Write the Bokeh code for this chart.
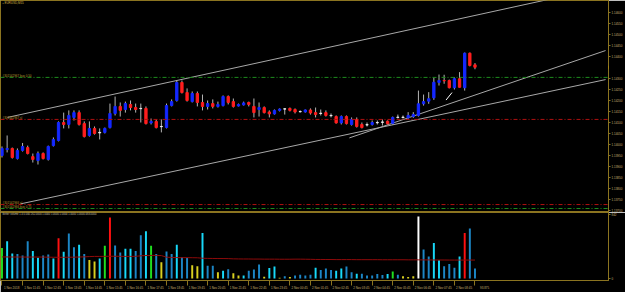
from bokeh.plotting import figure
from bokeh.layouts import column
from bokeh.models import Range1d, FixedTicker, PrintfTickFormatter, Span, Label, ColumnDataSource
from bokeh.embed import file_html
from bokeh.resources import INLINE

symbol = "EURUSD,M15"

opens = [1.13950, 1.13977, 1.13982, 1.13936, 1.13973, 1.13986, 1.13945, 1.13927, 1.13959, 1.13932,
         1.13995, 1.14018, 1.14100, 1.14091, 1.14123, 1.14145, 1.14095, 1.14041, 1.14073, 1.14055,
         1.14055, 1.14077, 1.14141, 1.14173, 1.14159, 1.14182, 1.14168, 1.14164, 1.14164, 1.14098,
         1.14105, 1.14082, 1.14077, 1.14177, 1.14200, 1.14282, 1.14236, 1.14195, 1.14232, 1.14191,
         1.14173, 1.14186, 1.14173, 1.14177, 1.14218, 1.14195, 1.14175, 1.14180, 1.14191, 1.14173,
         1.14159, 1.14168, 1.14148, 1.14139, 1.14155, 1.14161, 1.14164, 1.14159, 1.14150, 1.14148,
         1.14157, 1.14145, 1.14142, 1.14145, 1.14132, 1.14127, 1.14098, 1.14127, 1.14091, 1.14114,
         1.14091, 1.14089, 1.14091, 1.14100, 1.14101, 1.14106, 1.14096, 1.14123, 1.14123, 1.14121,
         1.14127, 1.14132, 1.14185, 1.14197, 1.14212, 1.14282, 1.14291, 1.14291, 1.14258, 1.14299,
         1.14258, 1.14415, 1.14362]
highs = [1.13991, 1.14041, 1.13986, 1.13982, 1.14007, 1.13995, 1.13959, 1.13968, 1.13964, 1.13995,
         1.14032, 1.14105, 1.14145, 1.14155, 1.14155, 1.14155, 1.14105, 1.14105, 1.14082, 1.14073,
         1.14077, 1.14186, 1.14218, 1.14191, 1.14195, 1.14200, 1.14186, 1.14186, 1.14173, 1.14118,
         1.14114, 1.14114, 1.14186, 1.14205, 1.14291, 1.14291, 1.14255, 1.14241, 1.14241, 1.14227,
         1.14200, 1.14205, 1.14195, 1.14223, 1.14223, 1.14209, 1.14186, 1.14195, 1.14195, 1.14209,
         1.14191, 1.14173, 1.14155, 1.14159, 1.14164, 1.14164, 1.14168, 1.14164, 1.14155, 1.14159,
         1.14164, 1.14168, 1.14159, 1.14155, 1.14141, 1.14132, 1.14132, 1.14132, 1.14123, 1.14123,
         1.14100, 1.14100, 1.14109, 1.14109, 1.14114, 1.14109, 1.14127, 1.14136, 1.14132, 1.14147,
         1.14147, 1.14245, 1.14227, 1.14238, 1.14303, 1.14318, 1.14317, 1.14295, 1.14305, 1.14329,
         1.14418, 1.14418, 1.14370]
lows = [1.13941, 1.13964, 1.13936, 1.13932, 1.13968, 1.13955, 1.13918, 1.13909, 1.13932, 1.13927,
        1.13991, 1.14014, 1.14073, 1.14073, 1.14109, 1.14086, 1.14032, 1.14036, 1.14045, 1.14023,
        1.14050, 1.14073, 1.14132, 1.14127, 1.14145, 1.14155, 1.14145, 1.14100, 1.14091, 1.14091,
        1.14073, 1.14055, 1.14073, 1.14173, 1.14195, 1.14232, 1.14195, 1.14191, 1.14173, 1.14155,
        1.14159, 1.14164, 1.14168, 1.14173, 1.14182, 1.14168, 1.14173, 1.14177, 1.14173, 1.14123,
        1.14127, 1.14141, 1.14123, 1.14136, 1.14150, 1.14136, 1.14150, 1.14141, 1.14145, 1.14145,
        1.14136, 1.14123, 1.14132, 1.14127, 1.14123, 1.14095, 1.14091, 1.14091, 1.14086, 1.14077,
        1.14073, 1.14082, 1.14086, 1.14091, 1.14086, 1.14091, 1.14091, 1.14118, 1.14118, 1.14117,
        1.14121, 1.14127, 1.14177, 1.14185, 1.14203, 1.14268, 1.14276, 1.14255, 1.14250, 1.14259,
        1.14245, 1.14355, 1.14342]
closes = [1.13982, 1.13982, 1.13941, 1.13973, 1.13991, 1.13959, 1.13932, 1.13959, 1.13936, 1.13991,
          1.14023, 1.14100, 1.14091, 1.14132, 1.14145, 1.14091, 1.14036, 1.14073, 1.14050, 1.14053,
          1.14073, 1.14141, 1.14173, 1.14155, 1.14186, 1.14168, 1.14159, 1.14163, 1.14095, 1.14105,
          1.14077, 1.14081, 1.14177, 1.14195, 1.14282, 1.14236, 1.14200, 1.14232, 1.14191, 1.14173,
          1.14186, 1.14173, 1.14182, 1.14218, 1.14191, 1.14173, 1.14182, 1.14189, 1.14182, 1.14145,
          1.14168, 1.14145, 1.14139, 1.14155, 1.14161, 1.14162, 1.14155, 1.14148, 1.14149, 1.14157,
          1.14143, 1.14136, 1.14141, 1.14132, 1.14131, 1.14098, 1.14127, 1.14095, 1.14114, 1.14082,
          1.14077, 1.14090, 1.14100, 1.14099, 1.14102, 1.14094, 1.14123, 1.14124, 1.14124, 1.14132,
          1.14136, 1.14185, 1.14195, 1.14208, 1.14283, 1.14291, 1.14289, 1.14258, 1.14299, 1.14260,
          1.14415, 1.14359, 1.14351]

volumes = [404, 492, 332, 324, 304, 492, 364, 276, 304, 316,
           264, 532, 352, 592, 412, 444, 324, 244, 224, 264,
           432, 804, 436, 344, 392, 392, 364, 572, 624, 432,
           324, 216, 356, 324, 444, 284, 272, 176, 164,
           600, 168, 168, 84, 104, 124, 72, 40, 40, 104,
           120, 184, 24, 140, 160, 12, 32, 20, 40, 52,
           40, 52, 144, 112, 132, 112, 104, 132, 160, 84,
           64, 64, 40, 40, 60, 48, 60, 92, 52, 32,
           20, 30, 816, 384, 292, 468, 240, 164, 192, 144,
           292, 600, 660, 132]
# Better Volume classes: N neutral, A light, L low, C churn, U climax up, D climax down
volume_class = list("CAANNNAANN" "AUANNANLLA" "CUNNAANNAC" "NLNNANNLL" "ANNLANLLAN"
                    "NNLAALNLNN" "NNANNNAANN" "ANNNNNACNL" "LLDNNAANNN" "AUNN")
volume_ma = [285, 285, 284, 284, 284, 283, 284, 284, 283, 282,
             281, 280, 280, 281, 282, 284, 286,
             290, 292, 292, 293, 294, 294, 293, 292, 292, 293,
             300, 304, 305, 305, 303,
             282, 278, 277, 276, 276, 275, 274,
             268, 266, 265, 264, 264, 263,
             260, 259, 258, 258, 257, 257, 256, 256, 256, 255, 255, 255, 256, 256, 255, 254,
             252, 252, 251, 251, 250, 250, 250, 250, 249, 249, 249, 249, 249, 248, 248, 248, 248, 248, 247, 247, 247,
             246, 246, 245, 245, 245, 244, 244, 244, 244, 244, 244]

time_labels = ["1 Nov 2018", "1 Nov 11:45", "1 Nov 12:45", "1 Nov 13:45", "1 Nov 14:45", "1 Nov 15:45",
               "1 Nov 16:45", "1 Nov 17:45", "1 Nov 18:45", "1 Nov 19:45", "1 Nov 20:45", "1 Nov 21:45",
               "1 Nov 22:45", "1 Nov 23:45", "2 Nov 00:45", "2 Nov 01:45", "2 Nov 02:45", "2 Nov 03:45",
               "2 Nov 04:45", "2 Nov 05:45", "2 Nov 06:45", "2 Nov 07:45", "2 Nov 08:45"]
price_ticks = [1.1460, 1.1455, 1.1450, 1.1445, 1.1440, 1.1430, 1.1425, 1.1420, 1.1415,
               1.1410, 1.1405, 1.1400, 1.1395, 1.1390, 1.1385, 1.1380, 1.1375, 1.1370]
volume_ticks = [0, 842]

# order lines: (price, label, kind)
order_prices = [1.14305, 1.14114, 1.13727, 1.13709]
order_labels = ["#301542967 buy 0.50", "#301542967 sl", "#301542966 sl", "#301542966 buy 0.75"]
order_kinds = ["entry", "sl", "sl", "entry"]

# trend lines (candle index, price)
trend_x0 = [1.07, 3.59, 67.57, 86.37]
trend_y0 = [1.14123, 1.13730, 1.14030, 1.14202]
trend_x1 = [117.0, 117.4, 117.4, 87.53]
trend_y1 = [1.14714, 1.14295, 1.14427, 1.14236]
trend_color = ["#A8A8A8", "#A8A8A8", "#A8A8A8", "#FFFFFF"]

volume_label = "Better volume 1.4 0.000 262.0000 1.0000 1.0000 1.0000 1.0000 1.0000 483.0000"

# ---------------------------------------------------------------- style
BG = "#000000"
FRAME = "#8B7420"
TXT = "#C8B070"
BULL = "#1428FF"
BEAR = "#FF1E1E"
DOJI = "#E8E8E8"
WICK = "#B4B4B4"
FONT = "Liberation Sans"
VCOL = {"N": "#1C86C6", "A": "#18D8F8", "L": "#D8D020", "C": "#20E020", "U": "#FF1010", "D": "#FFFFFF"}

n = len(opens)
idx = list(range(n))
body_col = [BULL if c > o + 0.00002 else (BEAR if c < o - 0.00002 else DOJI) for o, c in zip(opens, closes)]
src = ColumnDataSource(dict(idx=idx, o=opens, h=highs, l=lows, c=closes,
                            top=[max(a, b) for a, b in zip(opens, closes)],
                            bot=[min(a, b) for a, b in zip(opens, closes)],
                            col=body_col))

xr = Range1d(-0.29, 117.97)

p = figure(width=625, height=212, x_range=xr, y_range=Range1d(1.136909, 1.146545),
           output_backend="svg", toolbar_location=None, x_axis_location=None, y_axis_location="right",
           background_fill_color=BG, border_fill_color=BG, outline_line_color=FRAME,
           min_border_left=0, min_border_top=0, min_border_bottom=0, min_border_right=15)
p.grid.visible = False

ya = p.yaxis[0]
ya.ticker = FixedTicker(ticks=price_ticks)
ya.formatter = PrintfTickFormatter(format="%.5f")
ya.axis_line_color = FRAME
ya.major_tick_line_color = FRAME
ya.major_tick_out = 2
ya.major_tick_in = 0
ya.minor_tick_line_color = None
ya.major_label_standoff = 1
ya.major_label_text_font_size = "3px"
ya.major_label_text_font = FONT
ya.major_label_text_color = TXT

for price, kind in zip(order_prices, order_kinds):
    p.add_layout(Span(location=price, dimension="width", line_width=1, line_dash="4 2 1 2",
                      line_color="#1E8C1E" if kind == "entry" else "#B01010"))
for price, lab in zip(order_prices, order_labels):
    p.add_layout(Label(x=xr.start, y=price, x_offset=2, text=lab, text_font=FONT, text_font_size="3px",
                       text_color="#B8962E", text_baseline="bottom", text_align="left"))

p.segment(x0=trend_x0, y0=trend_y0, x1=trend_x1, y1=trend_y1, line_color=trend_color, line_width=1)

p.segment(x0="idx", y0="l", x1="idx", y1="h", source=src, line_color=WICK, line_width=1)
p.vbar(x="idx", width=0.45, top="top", bottom="bot", source=src, fill_color="col", line_color="col", line_width=1)

p.add_layout(Label(x=xr.start, y=1.146545, x_offset=2, text="\u25aa " + symbol, text_font=FONT,
                   text_font_size="3px", text_color="#D0B040", text_baseline="top", text_align="left"))
p.add_layout(Label(x=xr.end, y=closes[-1], text="%.5f" % closes[-1], text_font=FONT, text_font_size="3px",
                   text_color="#000000", text_baseline="middle", text_align="left",
                   background_fill_color="#E0B000"))

# ---------------------------------------------------------------- volume pane
vsrc = ColumnDataSource(dict(idx=idx, v=volumes, ma=volume_ma, col=[VCOL[k] for k in volume_class]))
pv = figure(width=625, height=80, x_range=xr, y_range=Range1d(-25, 870),
            output_backend="svg", toolbar_location=None, x_axis_location="below", y_axis_location="right",
            background_fill_color=BG, border_fill_color=BG, outline_line_color=FRAME,
            min_border_left=0, min_border_top=0, min_border_bottom=8, min_border_right=15)
pv.grid.visible = False
pv.vbar(x="idx", width=0.38, top="v", bottom=0, source=vsrc, fill_color="col", line_color=None)
pv.line(x="idx", y="ma", source=vsrc, line_color="#8E0A0A", line_width=1)
pv.add_layout(Label(x=xr.start, y=870, x_offset=2, text=volume_label, text_font=FONT, text_font_size="2.6px",
                    text_color="#C8C0A8", text_baseline="top", text_align="left"))

va = pv.yaxis[0]
va.ticker = FixedTicker(ticks=volume_ticks)
va.formatter = PrintfTickFormatter(format="%d")
va.axis_line_color = FRAME
va.major_tick_line_color = FRAME
va.major_tick_out = 2
va.major_tick_in = 0
va.minor_tick_line_color = None
va.major_label_standoff = 1
va.major_label_text_font_size = "3px"
va.major_label_text_font = FONT
va.major_label_text_color = TXT

hour_ticks = list(range(0, n, 4))
shift = 1.875
xa = pv.xaxis[0]
xa.ticker = FixedTicker(ticks=[t + shift for t in hour_ticks], minor_ticks=hour_ticks)
xa.major_label_overrides = {t + shift: lab for t, lab in zip(hour_ticks, time_labels)}
xa.axis_line_color = FRAME
xa.major_tick_line_color = None
xa.major_tick_out = 1
xa.major_tick_in = 0
xa.minor_tick_line_color = FRAME
xa.minor_tick_out = 5
xa.minor_tick_in = 0
xa.major_label_standoff = 1
xa.major_label_text_font_size = "3px"
xa.major_label_text_font = FONT
xa.major_label_text_color = TXT

layout = column(p, pv, spacing=0)
open("out.html", "w").write(file_html(layout, INLINE))
